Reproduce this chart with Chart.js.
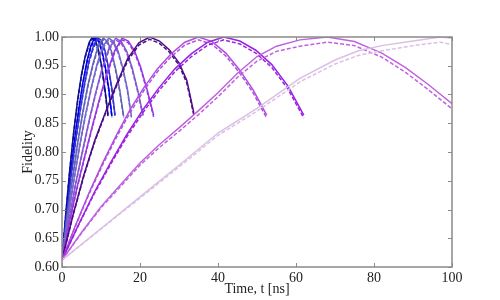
<!DOCTYPE html>
<html>
<head>
<meta charset="utf-8">
<script src="https://cdn.jsdelivr.net/npm/chart.js@4"></script>
<style>
  html, body { margin: 0; padding: 0; background: #ffffff; }
  #wrap { width: 500px; height: 300px; }
</style>
</head>
<body>
<div id="wrap"><canvas id="c" width="500" height="300"></canvas></div>
<script>
// ---- data ----
const xTicks = [0, 20, 40, 60, 80, 100];
const yTicks = [0.60, 0.65, 0.70, 0.75, 0.80, 0.85, 0.90, 0.95, 1.00];

const t_navy = [0,1,2,3,4,5,6,7,7.8,8.6,9.4,10.2,11,11.8];
const f_navy = [0.612,0.695,0.77,0.835,0.89,0.935,0.968,0.991,1.0,0.994,0.976,0.948,0.91,0.865];
const f_navy_d = [0.612,0.694,0.768,0.833,0.888,0.933,0.966,0.988,0.997,0.991,0.973,0.945,0.907,0.862];

const t_blue = [0,1.1,2.1,3.2,4.2,5.3,6.4,7.4,8.5,9.4,10.2,11.1,12,12.8];
const f_blue = [0.612,0.69,0.757,0.82,0.87,0.919,0.958,0.985,1.0,0.995,0.978,0.948,0.91,0.862];
const f_blue_d = [0.612,0.689,0.755,0.818,0.868,0.917,0.956,0.982,0.997,0.992,0.975,0.945,0.907,0.86];

const t_mblue = [0,1.2,2.3,3.5,4.6,5.8,6.9,8.1,9.2,10.1,11,11.9,12.8,13.6];
const f_mblue = [0.612,0.69,0.757,0.82,0.87,0.919,0.958,0.985,0.999,0.994,0.977,0.948,0.91,0.864];
const f_mblue_d = [0.612,0.689,0.755,0.818,0.868,0.917,0.955,0.982,0.996,0.991,0.974,0.945,0.907,0.861];

const t_slate = [0,1.3,2.7,4,5.3,6.6,8,9.3,10.6,11.7,12.7,13.7,14.8,15.8];
const f_slate = [0.612,0.687,0.755,0.815,0.868,0.915,0.955,0.985,0.998,0.992,0.975,0.946,0.908,0.862];
const f_slate_d = [0.612,0.686,0.753,0.813,0.866,0.913,0.952,0.982,0.995,0.989,0.972,0.943,0.905,0.86];

const t_slate2 = [0,1.5,3,4.5,6,7.5,9,10.5,12,13.2,14.4,15.6,16.8,17.8];
const f_slate2 = [0.612,0.684,0.75,0.81,0.864,0.912,0.953,0.984,0.998,0.992,0.975,0.946,0.908,0.862];
const f_slate2_d = [0.612,0.683,0.748,0.808,0.862,0.91,0.95,0.981,0.995,0.989,0.972,0.943,0.905,0.86];

const t_mpurp = [0,1.7,3.4,5.2,6.9,8.6,10.3,12.1,13.8,15.2,16.6,18,19.4,20.8];
const f_mpurp = [0.612,0.68,0.742,0.8,0.853,0.902,0.946,0.981,0.998,0.992,0.975,0.946,0.908,0.864];
const f_mpurp_d = [0.612,0.679,0.74,0.798,0.851,0.9,0.943,0.978,0.995,0.989,0.972,0.943,0.905,0.861];

const t_violet = [0,1.9,3.8,5.8,7.7,9.6,11.5,13.5,15.4,17,18.6,20.2,21.8,23.5];
const f_violet = [0.612,0.677,0.737,0.792,0.843,0.892,0.937,0.976,0.998,0.993,0.976,0.947,0.909,0.864];
const f_violet_d = [0.612,0.676,0.735,0.79,0.841,0.889,0.934,0.973,0.995,0.99,0.973,0.944,0.906,0.861];

const t_indigo = [0,2.8,5.6,8.4,11.2,14,16.8,19.7,22.5,25,27.5,30,32,33.8];
const f_indigo = [0.612,0.69,0.76,0.82,0.87,0.918,0.962,0.99,1.0,0.993,0.978,0.955,0.925,0.868];
const f_indigo_d = [0.612,0.689,0.758,0.818,0.868,0.915,0.958,0.986,0.996,0.989,0.974,0.951,0.92,0.864];

const t_orchid = [0,3.5,7,10.5,14,17.5,21,24.5,28,31.5,35,38.5,42,45.5,49,52.5];
const f_orchid = [0.612,0.673,0.73,0.782,0.83,0.874,0.912,0.945,0.971,0.991,1.0,0.992,0.972,0.943,0.908,0.864];
const f_orchid_d = [0.612,0.672,0.728,0.779,0.826,0.869,0.907,0.94,0.966,0.986,0.995,0.987,0.967,0.938,0.903,0.859];

const t_dviolet = [0,4.2,8.3,12.5,16.6,20.8,24.9,29,33.2,37.4,41.5,45.6,49.7,53.8,57.9,62];
const f_dviolet = [0.612,0.673,0.73,0.782,0.83,0.874,0.912,0.945,0.971,0.991,1.0,0.993,0.977,0.952,0.915,0.864];
const f_dviolet_d = [0.612,0.672,0.728,0.779,0.826,0.869,0.907,0.94,0.966,0.986,0.995,0.988,0.972,0.947,0.91,0.859];

const t_lorchid = [0,5,10,15,20,25,30,35,40,45,50,55,61,68,75,82,88,94,100];
const f_lorchid = [0.612,0.66,0.705,0.743,0.781,0.813,0.842,0.872,0.903,0.937,0.966,0.984,0.995,1.0,0.992,0.972,0.947,0.917,0.884];
const f_lorchid_d = [0.612,0.659,0.703,0.74,0.777,0.808,0.836,0.865,0.896,0.93,0.958,0.975,0.984,0.991,0.985,0.965,0.939,0.908,0.875];

const t_thistle = [0,10,20,30,40,50,61,70,76,82,90,97,100];
const f_thistle = [0.612,0.667,0.722,0.777,0.833,0.876,0.928,0.96,0.976,0.985,0.993,1.0,0.998];
const f_thistle_d = [0.612,0.666,0.72,0.774,0.829,0.871,0.922,0.953,0.968,0.976,0.985,0.991,0.987];

// ---- styles ----
const curves = [
  { t: t_thistle, f: f_thistle, fd: f_thistle_d, color: '#dbbfe5' },
  { t: t_lorchid, f: f_lorchid, fd: f_lorchid_d, color: '#c062e0' },
  { t: t_dviolet, f: f_dviolet, fd: f_dviolet_d, color: '#9a22e2' },
  { t: t_orchid, f: f_orchid, fd: f_orchid_d, color: '#b04ee0' },
  { t: t_indigo, f: f_indigo, fd: f_indigo_d, color: '#4c0c86' },
  { t: t_violet, f: f_violet, fd: f_violet_d, color: '#9a36e4' },
  { t: t_mpurp, f: f_mpurp, fd: f_mpurp_d, color: '#8458d2' },
  { t: t_slate2, f: f_slate2, fd: f_slate2_d, color: '#7468cc' },
  { t: t_slate, f: f_slate, fd: f_slate_d, color: '#6262b8' },
  { t: t_mblue, f: f_mblue, fd: f_mblue_d, color: '#3434d4' },
  { t: t_blue, f: f_blue, fd: f_blue_d, color: '#0000ee' },
  { t: t_navy, f: f_navy, fd: f_navy_d, color: '#10108c' }
];

const datasets = [];
curves.forEach(c => {
  datasets.push({
    data: c.t.map((x, i) => ({ x: x, y: c.f[i] })),
    borderColor: c.color, borderWidth: 1.5, pointRadius: 0, tension: 0, fill: false
  });
  datasets.push({
    data: c.t.map((x, i) => ({ x: x, y: c.fd[i] })),
    borderColor: c.color, borderWidth: 1.5, borderDash: [4, 2], pointRadius: 0, tension: 0, fill: false
  });
});

const FONT = "'Liberation Serif', 'Times New Roman', serif";

const framePlugin = {
  id: 'frame',
  afterDatasetsDraw(chart) {
    const { ctx, chartArea: a, scales: { x, y } } = chart;
    ctx.save();
    ctx.strokeStyle = '#8a8a8a';
    ctx.lineWidth = 1;
    ctx.beginPath();
    xTicks.forEach(v => {
      const px = Math.round(x.getPixelForValue(v)) + 0.5;
      ctx.moveTo(px, a.bottom); ctx.lineTo(px, a.bottom - 4);
      ctx.moveTo(px, a.top); ctx.lineTo(px, a.top + 4);
    });
    yTicks.forEach(v => {
      const py = Math.round(y.getPixelForValue(v)) + 0.5;
      ctx.moveTo(a.left, py); ctx.lineTo(a.left + 4, py);
      ctx.moveTo(a.right, py); ctx.lineTo(a.right - 4, py);
    });
    ctx.stroke();
    ctx.lineWidth = 1.5;
    ctx.strokeRect(a.left, a.top, a.right - a.left, a.bottom - a.top);
    ctx.restore();
  }
};

new Chart(document.getElementById('c'), {
  type: 'line',
  data: { datasets: datasets },
  options: {
    responsive: false,
    animation: false,
    events: [],
    layout: { padding: { top: 37, right: 48, left: 0, bottom: 0 } },
    plugins: { legend: { display: false }, tooltip: { enabled: false } },
    scales: {
      x: {
        type: 'linear', min: 0, max: 100,
        afterBuildTicks(s) { s.ticks = xTicks.map(v => ({ value: v })); },
        afterFit(s) { s.height = 33; },
        grid: { display: false, drawTicks: false },
        border: { display: false },
        ticks: { color: '#222', padding: 3, maxRotation: 0, font: { family: FONT, size: 14 },
                 callback: v => String(v) },
        title: { display: true, text: 'Time, t [ns]', color: '#222',
                 font: { family: FONT, size: 14 }, padding: { top: 0, bottom: 2 } }
      },
      y: {
        type: 'linear', min: 0.6, max: 1.0,
        afterBuildTicks(s) { s.ticks = yTicks.map(v => ({ value: v })); },
        afterFit(s) { s.width = 62; },
        grid: { display: false, drawTicks: false },
        border: { display: false },
        ticks: { color: '#222', padding: 3, font: { family: FONT, size: 14 },
                 callback: v => Number(v).toFixed(2) },
        title: { display: true, text: 'Fidelity', color: '#222',
                 font: { family: FONT, size: 14 }, padding: { top: 20, bottom: 0 } }
      }
    }
  },
  plugins: [framePlugin]
});
</script>
</body>
</html>
